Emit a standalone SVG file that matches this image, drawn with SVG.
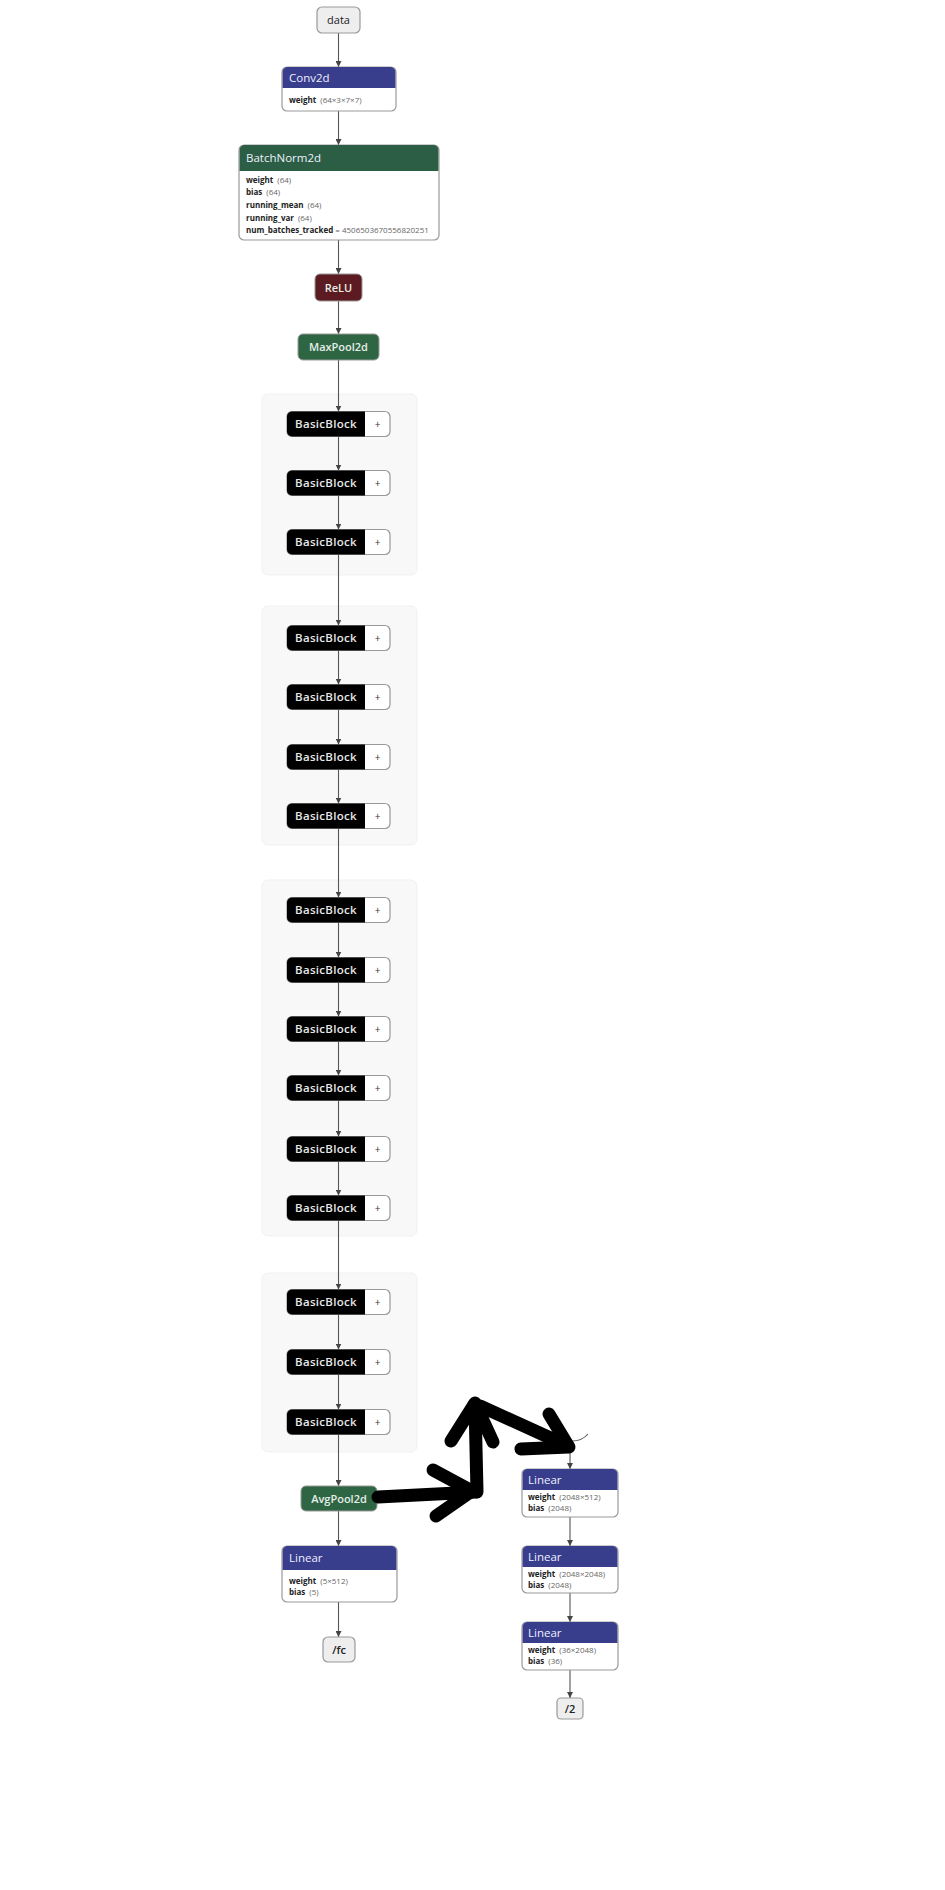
<svg xmlns="http://www.w3.org/2000/svg" width="945" height="1890" viewBox="0 0 945 1890">
<defs>
<marker id="ah" viewBox="0 0 10 10" refX="10" refY="5" markerWidth="6" markerHeight="6" orient="auto" markerUnits="userSpaceOnUse">
<path d="M0,0 L10,5 L0,10 Z" fill="#444"/>
</marker>
<style>
text{font-family:"Open Sans","Liberation Sans",sans-serif;}
.grp{fill:#f8f8f8;stroke:#f1f1f1;stroke-width:1;}
.edge{stroke:#555;stroke-width:1.1;fill:none;marker-end:url(#ah);}
.box{fill:#fff;stroke:#999;stroke-width:1.2;}
.lit{fill:#eeeeee;stroke:#999;stroke-width:1.2;}
.navy{fill:#383d8c;}
.green{fill:#2b5e44;}
.pool{fill:#2e6644;stroke:#999;stroke-width:1;}
.relu{fill:#5b1b20;stroke:#999;stroke-width:1;}
.hd{font-size:11.5px;fill:#eef0ff;}
.lbl{font-size:11px;fill:#222;text-anchor:middle;}
.wl{font-size:11px;fill:#e6eee8;text-anchor:middle;font-weight:600;}
.bb{font-size:11.5px;fill:#e8e8e8;text-anchor:middle;font-weight:600;letter-spacing:0.3px;}
.plus{font-size:10px;fill:#333;text-anchor:middle;}
.k{font-size:8px;fill:#222;font-weight:700;}
.v{font-size:8px;fill:#666;font-weight:400;}
.hand{stroke:#000;stroke-width:13;fill:none;stroke-linecap:round;stroke-linejoin:round;}
</style>
</defs>
<rect width="945" height="1890" fill="#fff"/>

<g id="groups">
<rect class="grp" x="262" y="394" width="155" height="181" rx="6"/>
<rect class="grp" x="262" y="606" width="155" height="239" rx="6"/>
<rect class="grp" x="262" y="880" width="155" height="356" rx="6"/>
<rect class="grp" x="262" y="1273" width="155" height="179" rx="6"/>
</g>

<g id="connectors">
<line class="edge" x1="338.5" y1="33" x2="338.5" y2="67"/>
<line class="edge" x1="338.5" y1="111" x2="338.5" y2="145"/>
<line class="edge" x1="338.5" y1="240" x2="338.5" y2="274"/>
<line class="edge" x1="338.5" y1="301" x2="338.5" y2="334"/>
<line class="edge" x1="338.5" y1="360" x2="338.5" y2="411.5"/>
<line class="edge" x1="338.5" y1="436.5" x2="338.5" y2="470.5"/>
<line class="edge" x1="338.5" y1="495.5" x2="338.5" y2="529.5"/>
<line class="edge" x1="338.5" y1="554.5" x2="338.5" y2="625.5"/>
<line class="edge" x1="338.5" y1="650.5" x2="338.5" y2="684.5"/>
<line class="edge" x1="338.5" y1="709.5" x2="338.5" y2="744.5"/>
<line class="edge" x1="338.5" y1="769.5" x2="338.5" y2="803.5"/>
<line class="edge" x1="338.5" y1="828.5" x2="338.5" y2="897.5"/>
<line class="edge" x1="338.5" y1="922.5" x2="338.5" y2="957.5"/>
<line class="edge" x1="338.5" y1="982.5" x2="338.5" y2="1016.5"/>
<line class="edge" x1="338.5" y1="1041.5" x2="338.5" y2="1075.5"/>
<line class="edge" x1="338.5" y1="1100.5" x2="338.5" y2="1136.5"/>
<line class="edge" x1="338.5" y1="1161.5" x2="338.5" y2="1195.5"/>
<line class="edge" x1="338.5" y1="1220.5" x2="338.5" y2="1289.5"/>
<line class="edge" x1="338.5" y1="1314.5" x2="338.5" y2="1349.5"/>
<line class="edge" x1="338.5" y1="1374.5" x2="338.5" y2="1409.5"/>
<line class="edge" x1="338.5" y1="1434.5" x2="338.5" y2="1486"/>
<line class="edge" x1="338.5" y1="1511" x2="338.5" y2="1546"/>
<line class="edge" x1="338.5" y1="1602" x2="338.5" y2="1637"/>
<path class="edge" d="M588,1434 Q582,1441 572,1441 Q570,1441 570,1446 L570,1469"/>
<line class="edge" x1="570" y1="1517" x2="570" y2="1546"/>
<line class="edge" x1="570" y1="1593" x2="570" y2="1622"/>
<line class="edge" x1="570" y1="1670" x2="570" y2="1698"/>
</g>

<g id="n-data">
<rect class="lit" x="317" y="7" width="43" height="26" rx="5"/>
<text class="lbl" x="338.5" y="24">data</text>
</g>

<g id="n-conv2d">
<rect class="box" x="282" y="67" width="114" height="44" rx="5"/>
<path class="navy" d="M282.6,88 V72 a5,5 0 0 1 5,-5 H390.4 a5,5 0 0 1 5,5 V88 Z"/>
<text class="hd" x="289" y="82">Conv2d</text>
<text x="289" y="103"><tspan class="k">weight</tspan><tspan class="v" dx="4">(64×3×7×7)</tspan></text>
</g>

<g id="n-batchnorm">
<rect class="box" x="239" y="145" width="200" height="95" rx="5"/>
<path class="green" d="M239.6,171 V150 a5,5 0 0 1 5,-5 H433.4 a5,5 0 0 1 5,5 V171 Z"/>
<text class="hd" x="246" y="162">BatchNorm2d</text>
<text x="246" y="183"><tspan class="k">weight</tspan><tspan class="v" dx="4">(64)</tspan></text>
<text x="246" y="195"><tspan class="k">bias</tspan><tspan class="v" dx="4">(64)</tspan></text>
<text x="246" y="208"><tspan class="k">running_mean</tspan><tspan class="v" dx="4">(64)</tspan></text>
<text x="246" y="221"><tspan class="k">running_var</tspan><tspan class="v" dx="4">(64)</tspan></text>
<text x="246" y="233"><tspan class="k">num_batches_tracked</tspan><tspan class="v"> = 4506503670556820251</tspan></text>
</g>

<g id="n-relu">
<rect class="relu" x="315" y="274" width="47" height="27" rx="5"/>
<text class="wl" x="338.5" y="291.5">ReLU</text>
</g>

<g id="n-maxpool">
<rect class="pool" x="298" y="334" width="81" height="26" rx="5"/>
<text class="wl" x="338.5" y="351">MaxPool2d</text>
</g>

<g id="blocks">
<g id="bb-1-1" transform="translate(0,424)"><rect x="287" y="-12.5" width="103" height="25" rx="5" fill="#fff" stroke="#999" stroke-width="1.2"/><path d="M365,-12.5 H292 a5,5 0 0 0 -5,5 V7.5 a5,5 0 0 0 5,5 H365 Z" fill="#000"/><text class="bb" x="326" y="4">BasicBlock</text><text class="plus" x="377.5" y="3.5">+</text></g>
<g id="bb-1-2" transform="translate(0,483)"><rect x="287" y="-12.5" width="103" height="25" rx="5" fill="#fff" stroke="#999" stroke-width="1.2"/><path d="M365,-12.5 H292 a5,5 0 0 0 -5,5 V7.5 a5,5 0 0 0 5,5 H365 Z" fill="#000"/><text class="bb" x="326" y="4">BasicBlock</text><text class="plus" x="377.5" y="3.5">+</text></g>
<g id="bb-1-3" transform="translate(0,542)"><rect x="287" y="-12.5" width="103" height="25" rx="5" fill="#fff" stroke="#999" stroke-width="1.2"/><path d="M365,-12.5 H292 a5,5 0 0 0 -5,5 V7.5 a5,5 0 0 0 5,5 H365 Z" fill="#000"/><text class="bb" x="326" y="4">BasicBlock</text><text class="plus" x="377.5" y="3.5">+</text></g>

<g id="bb-2-1" transform="translate(0,638)"><rect x="287" y="-12.5" width="103" height="25" rx="5" fill="#fff" stroke="#999" stroke-width="1.2"/><path d="M365,-12.5 H292 a5,5 0 0 0 -5,5 V7.5 a5,5 0 0 0 5,5 H365 Z" fill="#000"/><text class="bb" x="326" y="4">BasicBlock</text><text class="plus" x="377.5" y="3.5">+</text></g>
<g id="bb-2-2" transform="translate(0,697)"><rect x="287" y="-12.5" width="103" height="25" rx="5" fill="#fff" stroke="#999" stroke-width="1.2"/><path d="M365,-12.5 H292 a5,5 0 0 0 -5,5 V7.5 a5,5 0 0 0 5,5 H365 Z" fill="#000"/><text class="bb" x="326" y="4">BasicBlock</text><text class="plus" x="377.5" y="3.5">+</text></g>
<g id="bb-2-3" transform="translate(0,757)"><rect x="287" y="-12.5" width="103" height="25" rx="5" fill="#fff" stroke="#999" stroke-width="1.2"/><path d="M365,-12.5 H292 a5,5 0 0 0 -5,5 V7.5 a5,5 0 0 0 5,5 H365 Z" fill="#000"/><text class="bb" x="326" y="4">BasicBlock</text><text class="plus" x="377.5" y="3.5">+</text></g>
<g id="bb-2-4" transform="translate(0,816)"><rect x="287" y="-12.5" width="103" height="25" rx="5" fill="#fff" stroke="#999" stroke-width="1.2"/><path d="M365,-12.5 H292 a5,5 0 0 0 -5,5 V7.5 a5,5 0 0 0 5,5 H365 Z" fill="#000"/><text class="bb" x="326" y="4">BasicBlock</text><text class="plus" x="377.5" y="3.5">+</text></g>

<g id="bb-3-1" transform="translate(0,910)"><rect x="287" y="-12.5" width="103" height="25" rx="5" fill="#fff" stroke="#999" stroke-width="1.2"/><path d="M365,-12.5 H292 a5,5 0 0 0 -5,5 V7.5 a5,5 0 0 0 5,5 H365 Z" fill="#000"/><text class="bb" x="326" y="4">BasicBlock</text><text class="plus" x="377.5" y="3.5">+</text></g>
<g id="bb-3-2" transform="translate(0,970)"><rect x="287" y="-12.5" width="103" height="25" rx="5" fill="#fff" stroke="#999" stroke-width="1.2"/><path d="M365,-12.5 H292 a5,5 0 0 0 -5,5 V7.5 a5,5 0 0 0 5,5 H365 Z" fill="#000"/><text class="bb" x="326" y="4">BasicBlock</text><text class="plus" x="377.5" y="3.5">+</text></g>
<g id="bb-3-3" transform="translate(0,1029)"><rect x="287" y="-12.5" width="103" height="25" rx="5" fill="#fff" stroke="#999" stroke-width="1.2"/><path d="M365,-12.5 H292 a5,5 0 0 0 -5,5 V7.5 a5,5 0 0 0 5,5 H365 Z" fill="#000"/><text class="bb" x="326" y="4">BasicBlock</text><text class="plus" x="377.5" y="3.5">+</text></g>
<g id="bb-3-4" transform="translate(0,1088)"><rect x="287" y="-12.5" width="103" height="25" rx="5" fill="#fff" stroke="#999" stroke-width="1.2"/><path d="M365,-12.5 H292 a5,5 0 0 0 -5,5 V7.5 a5,5 0 0 0 5,5 H365 Z" fill="#000"/><text class="bb" x="326" y="4">BasicBlock</text><text class="plus" x="377.5" y="3.5">+</text></g>
<g id="bb-3-5" transform="translate(0,1149)"><rect x="287" y="-12.5" width="103" height="25" rx="5" fill="#fff" stroke="#999" stroke-width="1.2"/><path d="M365,-12.5 H292 a5,5 0 0 0 -5,5 V7.5 a5,5 0 0 0 5,5 H365 Z" fill="#000"/><text class="bb" x="326" y="4">BasicBlock</text><text class="plus" x="377.5" y="3.5">+</text></g>
<g id="bb-3-6" transform="translate(0,1208)"><rect x="287" y="-12.5" width="103" height="25" rx="5" fill="#fff" stroke="#999" stroke-width="1.2"/><path d="M365,-12.5 H292 a5,5 0 0 0 -5,5 V7.5 a5,5 0 0 0 5,5 H365 Z" fill="#000"/><text class="bb" x="326" y="4">BasicBlock</text><text class="plus" x="377.5" y="3.5">+</text></g>

<g id="bb-4-1" transform="translate(0,1302)"><rect x="287" y="-12.5" width="103" height="25" rx="5" fill="#fff" stroke="#999" stroke-width="1.2"/><path d="M365,-12.5 H292 a5,5 0 0 0 -5,5 V7.5 a5,5 0 0 0 5,5 H365 Z" fill="#000"/><text class="bb" x="326" y="4">BasicBlock</text><text class="plus" x="377.5" y="3.5">+</text></g>
<g id="bb-4-2" transform="translate(0,1362)"><rect x="287" y="-12.5" width="103" height="25" rx="5" fill="#fff" stroke="#999" stroke-width="1.2"/><path d="M365,-12.5 H292 a5,5 0 0 0 -5,5 V7.5 a5,5 0 0 0 5,5 H365 Z" fill="#000"/><text class="bb" x="326" y="4">BasicBlock</text><text class="plus" x="377.5" y="3.5">+</text></g>
<g id="bb-4-3" transform="translate(0,1422)"><rect x="287" y="-12.5" width="103" height="25" rx="5" fill="#fff" stroke="#999" stroke-width="1.2"/><path d="M365,-12.5 H292 a5,5 0 0 0 -5,5 V7.5 a5,5 0 0 0 5,5 H365 Z" fill="#000"/><text class="bb" x="326" y="4">BasicBlock</text><text class="plus" x="377.5" y="3.5">+</text></g>
</g>

<g id="n-avgpool">
<rect class="pool" x="301" y="1486" width="76" height="25" rx="5"/>
<text class="wl" x="339" y="1502.5">AvgPool2d</text>
</g>

<g id="n-linear-fc">
<rect class="box" x="282" y="1546" width="115" height="56" rx="5"/>
<path class="navy" d="M282.6,1570 V1551 a5,5 0 0 1 5,-5 H391.4 a5,5 0 0 1 5,5 V1570 Z"/>
<text class="hd" x="289" y="1562">Linear</text>
<text x="289" y="1584"><tspan class="k">weight</tspan><tspan class="v" dx="4">(5×512)</tspan></text>
<text x="289" y="1595"><tspan class="k">bias</tspan><tspan class="v" dx="4">(5)</tspan></text>
</g>

<g id="n-fc">
<rect class="lit" x="323" y="1637" width="32" height="25" rx="5"/>
<text class="lbl" x="339" y="1653.5" font-weight="600">/fc</text>
</g>

<g id="n-linear-r1">
<rect class="box" x="522" y="1469" width="96" height="48" rx="5"/>
<path class="navy" d="M522.6,1490 V1474 a5,5 0 0 1 5,-5 H612.4 a5,5 0 0 1 5,5 V1490 Z"/>
<text class="hd" x="528" y="1484">Linear</text>
<text x="528" y="1500"><tspan class="k">weight</tspan><tspan class="v" dx="4">(2048×512)</tspan></text>
<text x="528" y="1511"><tspan class="k">bias</tspan><tspan class="v" dx="4">(2048)</tspan></text>
</g>

<g id="n-linear-r2">
<rect class="box" x="522" y="1546" width="96" height="47" rx="5"/>
<path class="navy" d="M522.6,1567 V1551 a5,5 0 0 1 5,-5 H612.4 a5,5 0 0 1 5,5 V1567 Z"/>
<text class="hd" x="528" y="1561">Linear</text>
<text x="528" y="1577"><tspan class="k">weight</tspan><tspan class="v" dx="4">(2048×2048)</tspan></text>
<text x="528" y="1588"><tspan class="k">bias</tspan><tspan class="v" dx="4">(2048)</tspan></text>
</g>

<g id="n-linear-r3">
<rect class="box" x="522" y="1622" width="96" height="48" rx="5"/>
<path class="navy" d="M522.6,1643 V1627 a5,5 0 0 1 5,-5 H612.4 a5,5 0 0 1 5,5 V1643 Z"/>
<text class="hd" x="528" y="1637">Linear</text>
<text x="528" y="1653"><tspan class="k">weight</tspan><tspan class="v" dx="4">(36×2048)</tspan></text>
<text x="528" y="1664"><tspan class="k">bias</tspan><tspan class="v" dx="4">(36)</tspan></text>
</g>

<g id="n-2">
<rect class="lit" x="557" y="1698" width="26" height="21" rx="4"/>
<text class="lbl" x="570" y="1712.5" font-size="10" font-weight="600">/2</text>
</g>

<g id="hand-arrows">
<path class="hand" d="M378,1497 L476,1492"/>
<path class="hand" d="M433,1470 L472,1491 L436,1516"/>
<path class="hand" d="M477,1492 L475,1404"/>
<path class="hand" d="M451,1441 L475,1403 L493,1442"/>
<path class="hand" d="M480,1406 L568,1446"/>
<path class="hand" d="M549,1414 L569,1447 L521,1449"/>
</g>
</svg>
